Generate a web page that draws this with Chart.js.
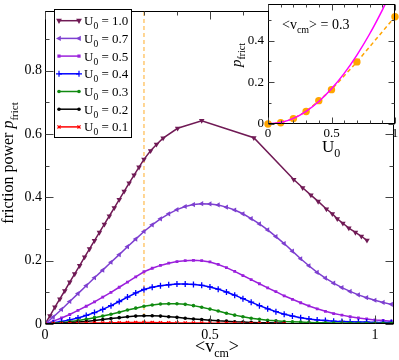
<!DOCTYPE html>
<html>
<head>
<meta charset="utf-8">
<script src="https://cdn.jsdelivr.net/npm/chart.js@4.4.1/dist/chart.umd.min.js"></script>
<style>
  html, body { margin: 0; padding: 0; background: #fff; }
  #wrap { position: relative; width: 399px; height: 360px; }
  #main { position: absolute; left: 0; top: 0; }
  #inset { position: absolute; left: 230px; top: 0; }
</style>
</head>
<body>
<div id="wrap">
  <canvas id="main" width="399" height="360"></canvas>
  <canvas id="inset" width="169" height="160"></canvas>
</div>
<script>
// ---- data ----
const u0Labels = ['1.0', '0.7', '0.5', '0.4', '0.3', '0.2', '0.1'];

// U0 = 1.0 has its own (non uniform) sampling
const vcm10 = [0, 0.015, 0.03, 0.045, 0.06, 0.075, 0.09, 0.105, 0.12, 0.135, 0.15, 0.165, 0.18, 0.195,
  0.21, 0.225, 0.24, 0.255, 0.27, 0.285, 0.3, 0.32, 0.338, 0.358, 0.402, 0.475, 0.633, 0.754, 0.781,
  0.806, 0.828, 0.853, 0.871, 0.886, 0.903, 0.921, 0.941, 0.959, 0.976];
const p10 = [0, 0.026, 0.053, 0.079, 0.105, 0.132, 0.158, 0.184, 0.211, 0.237, 0.263, 0.289, 0.315, 0.341,
  0.367, 0.393, 0.419, 0.445, 0.470, 0.495, 0.520, 0.547, 0.567, 0.587, 0.618, 0.642, 0.588, 0.456, 0.430,
  0.407, 0.387, 0.363, 0.348, 0.332, 0.318, 0.303, 0.289, 0.277, 0.264];

// the other curves share this <v_cm> grid
const vcm = [0, 0.025, 0.05, 0.075, 0.1, 0.125, 0.15, 0.175, 0.2, 0.225, 0.25, 0.275, 0.3, 0.325, 0.35,
  0.375, 0.4, 0.425, 0.45, 0.475, 0.5, 0.525, 0.55, 0.575, 0.6, 0.625, 0.65, 0.675, 0.7, 0.725, 0.75,
  0.775, 0.8, 0.825, 0.85, 0.875, 0.9, 0.925, 0.95, 0.975, 1.0, 1.025, 1.05];
const p07 = [0, 0.022, 0.046, 0.071, 0.096, 0.121, 0.146, 0.170, 0.195, 0.219, 0.244, 0.268, 0.292, 0.313,
  0.332, 0.348, 0.361, 0.371, 0.377, 0.380, 0.379, 0.376, 0.369, 0.360, 0.348, 0.333, 0.316, 0.297, 0.276,
  0.254, 0.230, 0.206, 0.184, 0.163, 0.145, 0.129, 0.115, 0.103, 0.092, 0.083, 0.075, 0.068, 0.062];
const p05 = [0, 0.009, 0.019, 0.030, 0.043, 0.056, 0.070, 0.085, 0.100, 0.116, 0.132, 0.149, 0.165, 0.176,
  0.185, 0.192, 0.197, 0.200, 0.201, 0.200, 0.196, 0.188, 0.178, 0.166, 0.153, 0.140, 0.127, 0.114, 0.102,
  0.089, 0.078, 0.067, 0.057, 0.048, 0.040, 0.033, 0.028, 0.023, 0.019, 0.016, 0.013, 0.011, 0.009];
const p04 = [0, 0.004, 0.008, 0.013, 0.019, 0.027, 0.036, 0.046, 0.058, 0.071, 0.085, 0.098, 0.109, 0.116,
  0.121, 0.124, 0.126, 0.126, 0.125, 0.122, 0.117, 0.110, 0.101, 0.091, 0.080, 0.069, 0.058, 0.048, 0.039,
  0.031, 0.025, 0.020, 0.016, 0.013, 0.011, 0.009, 0.008, 0.007, 0.006, 0.006, 0.005, 0.005, 0.005];
const p03 = [0, 0.002, 0.004, 0.007, 0.011, 0.015, 0.020, 0.025, 0.031, 0.037, 0.044, 0.050, 0.056, 0.060,
  0.063, 0.064, 0.064, 0.062, 0.058, 0.053, 0.047, 0.041, 0.034, 0.028, 0.023, 0.018, 0.015, 0.012, 0.010,
  0.008, 0.007, 0.006, 0.005, 0.004, 0.004, 0.003, 0.003, 0.003, 0.002, 0.002, 0.002, 0.002, 0.002];
const p02 = [0, 0.001, 0.002, 0.004, 0.006, 0.008, 0.011, 0.014, 0.017, 0.020, 0.023, 0.025, 0.026, 0.026,
  0.025, 0.023, 0.021, 0.018, 0.016, 0.014, 0.012, 0.010, 0.009, 0.007, 0.006, 0.005, 0.004, 0.004, 0.003, 0.003];
const p01 = [0, 0.0005, 0.001, 0.0015, 0.002, 0.0025, 0.003, 0.0035, 0.004, 0.004, 0.0045, 0.0045, 0.0045,
  0.0045, 0.004, 0.004, 0.0035, 0.0035, 0.003, 0.003, 0.0025, 0.0025, 0.002, 0.002, 0.0015, 0.0015, 0.0015,
  0.001, 0.001, 0.001];

const vcmCut = 0.3;   // dashed orange marker line

// inset: p_frict at <v_cm> = 0.3 vs U0
const insetU0 = [0, 0.1, 0.2, 0.3, 0.4, 0.5, 0.7, 1.0];
const insetP = [0, 0.006, 0.026, 0.060, 0.112, 0.165, 0.298, 0.515];
const fitU0 = [0, 0.1, 0.2, 0.3, 0.4, 0.5, 0.6, 0.7, 0.8, 0.9, 0.95];
const fitP = [0, 0.007, 0.027, 0.061, 0.108, 0.169, 0.243, 0.331, 0.432, 0.547, 0.61];

// ticks
const mainXMajor = [0, 0.5, 1], mainXLabels = ['0', '0.5', '1'];
const mainXMinor = [0.1, 0.2, 0.3, 0.4, 0.6, 0.7, 0.8, 0.9];
const mainYMajor = [0, 0.2, 0.4, 0.6, 0.8], mainYLabels = ['0', '0.2', '0.4', '0.6', '0.8'];
const mainYMinor = [0.1, 0.3, 0.5, 0.7, 0.9];
const insXMajor = [0, 0.5, 1], insXLabels = ['0', '0.5', '1'];
const insXMinor = [0.1, 0.2, 0.3, 0.4, 0.6, 0.7, 0.8, 0.9];
const insYMajor = [0, 0.2, 0.4], insYLabels = ['0', '0.2', '0.4'];
const insYMinor = [0.1, 0.3, 0.5];

// ---- styling ----
const SERIF = '"Liberation Serif", "DejaVu Serif", serif';
const colors = ['#701a55', '#7d3fd0', '#9b20dc', '#0000ff', '#108a10', '#000000', '#ff0000'];
const pstyles = ['triangle', 'triangle', 'rect', 'cross', 'circle', 'circle', 'crossRot'];
const prots = [180, 270, 0, 0, 0, 0, 0];
const pradii = [3.2, 3, 2, 3, 1.8, 1.8, 2.2];

function pts(xs, ys) { return ys.map((y, i) => ({ x: xs[i], y: y })); }

function richText(ctx, parts, x, y, align) {
  let w = 0;
  parts.forEach(p => { ctx.font = p[1]; w += ctx.measureText(p[0]).width; });
  let cx = align === 'center' ? x - w / 2 : x;
  ctx.textAlign = 'left'; ctx.textBaseline = 'alphabetic'; ctx.fillStyle = '#000';
  parts.forEach(p => {
    ctx.font = p[1];
    ctx.fillText(p[0], cx, y + (p[2] || 0));
    cx += ctx.measureText(p[0]).width;
  });
}

function drawMarker(ctx, style, rot, r, x, y) {
  ctx.save();
  ctx.translate(x, y);
  ctx.rotate(rot * Math.PI / 180);
  ctx.beginPath();
  if (style === 'triangle') {
    ctx.moveTo(0, -r); ctx.lineTo(r * 0.9, r * 0.6); ctx.lineTo(-r * 0.9, r * 0.6); ctx.closePath(); ctx.fill();
  } else if (style === 'rect') {
    ctx.fillRect(-r * 0.8, -r * 0.8, r * 1.6, r * 1.6);
  } else if (style === 'circle') {
    ctx.arc(0, 0, r, 0, Math.PI * 2); ctx.fill();
  } else {
    if (style === 'crossRot') ctx.rotate(Math.PI / 4);
    ctx.moveTo(-r, 0); ctx.lineTo(r, 0); ctx.moveTo(0, -r); ctx.lineTo(0, r); ctx.stroke();
  }
  ctx.restore();
}

function axesPlugin(xMaj, xMin, yMaj, yMin, majLen, minLen) {
  return {
    id: 'frameTicks',
    afterDatasetsDraw(chart) {
      const { ctx, chartArea: a, scales } = chart;
      const L = Math.round(a.left) + 0.5, R = Math.round(a.right) - 0.5;
      const T = Math.round(a.top) + 0.5, B = Math.round(a.bottom) - 0.5;
      ctx.save();
      ctx.strokeStyle = '#000'; ctx.lineWidth = 1;
      ctx.strokeRect(L, T, R - L, B - T);
      ctx.strokeStyle = '#444';
      ctx.beginPath();
      const xt = (v, len) => {
        const px = Math.round(scales.x.getPixelForValue(v)) + 0.5;
        ctx.moveTo(px, B); ctx.lineTo(px, B - len);
        ctx.moveTo(px, T); ctx.lineTo(px, T + len);
      };
      const yt = (v, len) => {
        const py = Math.round(scales.y.getPixelForValue(v)) + 0.5;
        ctx.moveTo(L, py); ctx.lineTo(L + len, py);
        ctx.moveTo(R, py); ctx.lineTo(R - len, py);
      };
      xMaj.forEach(v => xt(v, majLen)); xMin.forEach(v => xt(v, minLen));
      yMaj.forEach(v => yt(v, majLen)); yMin.forEach(v => yt(v, minLen));
      ctx.stroke();
      ctx.restore();
    }
  };
}

const mainLegend = {
  id: 'mainLegend',
  afterDraw(chart) {
    const ctx = chart.ctx;
    ctx.save();
    ctx.fillStyle = '#fff';
    ctx.fillRect(54, 9, 77, 128);
    ctx.strokeStyle = '#000'; ctx.lineWidth = 1;
    ctx.strokeRect(54.5, 9.5, 77, 128);
    u0Labels.forEach((lab, i) => {
      const y = 20.7 + i * 17.7;
      ctx.strokeStyle = colors[i]; ctx.fillStyle = colors[i]; ctx.lineWidth = 1.5;
      ctx.beginPath(); ctx.moveTo(59, y); ctx.lineTo(79, y); ctx.stroke();
      ctx.lineWidth = 1.2;
      drawMarker(ctx, pstyles[i], prots[i], pradii[i], 59, y);
      drawMarker(ctx, pstyles[i], prots[i], pradii[i], 79, y);
      richText(ctx, [['U', '13px ' + SERIF], ['0', '9.5px ' + SERIF, 4], [' = ' + lab, '13px ' + SERIF]], 84, y + 4.5);
    });
    // axis titles
    ctx.save();
    ctx.translate(13, 163);
    ctx.rotate(-Math.PI / 2);
    richText(ctx, [['friction power ', '16px ' + SERIF], ['p', 'italic 16px ' + SERIF], ['frict', '11px ' + SERIF, 4.5]], 0, 0, 'center');
    ctx.restore();
    richText(ctx, [['<v', '18px ' + SERIF], ['cm', '12px ' + SERIF, 5], ['>', '18px ' + SERIF]], 217, 352, 'center');
    ctx.restore();
  }
};

const series = [p10, p07, p05, p04, p03, p02, p01];
const mainSets = series.map((ys, i) => ({
  label: 'U0 = ' + u0Labels[i],
  data: i === 0 ? pts(vcm10, ys) : pts(vcm, ys),
  borderColor: colors[i],
  backgroundColor: colors[i],
  borderWidth: 1.5,
  pointStyle: pstyles[i],
  rotation: prots[i],
  pointRadius: pradii[i],
  pointBorderWidth: (pstyles[i] === 'cross' || pstyles[i] === 'crossRot') ? 1.3 : 0,
  pointBackgroundColor: colors[i],
  pointBorderColor: colors[i],
  tension: 0,
  fill: false,
  order: 7 - i
}));
mainSets.push({
  label: 'cut',
  data: [{ x: vcmCut, y: 0 }, { x: vcmCut, y: 0.987 }],
  borderColor: '#ffc870',
  borderWidth: 1.5,
  borderDash: [4, 3],
  pointRadius: 0,
  fill: false,
  order: 20
});

const tickFont = { family: SERIF, size: 14 };

new Chart(document.getElementById('main'), {
  type: 'line',
  data: { datasets: mainSets },
  options: {
    responsive: false,
    animation: false,
    layout: { padding: { top: 2, right: 2, left: 0, bottom: 0 } },
    plugins: { legend: { display: false }, tooltip: { enabled: false } },
    scales: {
      x: {
        type: 'linear', min: 0, max: 1.057,
        grid: { display: false, drawTicks: false }, border: { display: false },
        afterBuildTicks: s => { s.ticks = mainXMajor.map(v => ({ value: v })); },
        afterFit: s => { s.height = 36; },
        ticks: { padding: 3, color: '#000', font: tickFont, maxRotation: 0, autoSkip: false,
          callback: (v, i) => mainXLabels[i] }
      },
      y: {
        type: 'linear', min: 0, max: 0.987,
        grid: { display: false, drawTicks: false }, border: { display: false },
        afterBuildTicks: s => { s.ticks = mainYMajor.map(v => ({ value: v })); },
        afterFit: s => { s.width = 45; },
        ticks: { padding: 3, color: '#000', font: tickFont, autoSkip: false,
          callback: (v, i) => mainYLabels[i] }
      }
    }
  },
  plugins: [axesPlugin(mainXMajor, mainXMinor, mainYMajor, mainYMinor, 8, 4), mainLegend]
});

// ---- inset ----
const insetDecor = {
  id: 'insetDecor',
  beforeDatasetsDraw(chart) {
    const { ctx, chartArea: a } = chart;
    ctx.save(); ctx.fillStyle = '#fff';
    ctx.fillRect(a.left, a.top, a.right - a.left, a.bottom - a.top);
    ctx.restore();
  },
  afterDraw(chart) {
    const { ctx, chartArea: a, scales } = chart;
    ctx.save();
    ctx.fillStyle = '#000';
    ctx.font = '13px ' + SERIF;
    ctx.textAlign = 'center'; ctx.textBaseline = 'top';
    insXMajor.forEach((v, i) => ctx.fillText(insXLabels[i], scales.x.getPixelForValue(v), a.bottom + 3));
    ctx.textAlign = 'right'; ctx.textBaseline = 'middle';
    insYMajor.forEach((v, i) => ctx.fillText(insYLabels[i], a.left - 4, scales.y.getPixelForValue(v)));
    richText(ctx, [['<v', '14px ' + SERIF], ['cm', '10px ' + SERIF, 4], ['> = 0.3', '14px ' + SERIF]], 52, 29);
    richText(ctx, [['U', '17px ' + SERIF], ['0', '12px ' + SERIF, 5]], 92, 152);
    ctx.translate(11, 55);
    ctx.rotate(-Math.PI / 2);
    richText(ctx, [['p', 'italic 15px ' + SERIF], ['frict', '10px ' + SERIF, 4]], 0, 0, 'center');
    ctx.restore();
  }
};

new Chart(document.getElementById('inset'), {
  type: 'line',
  data: {
    datasets: [
      {
        label: 'fit',
        data: pts(fitU0, fitP),
        borderColor: '#ff00ff',
        borderWidth: 1.5,
        pointRadius: 0,
        cubicInterpolationMode: 'monotone',
        fill: false,
        order: 1
      },
      {
        label: 'p at 0.3',
        data: pts(insetU0, insetP),
        borderColor: '#ffa500',
        borderWidth: 1.5,
        borderDash: [4, 3],
        pointRadius: 3.7,
        pointBackgroundColor: '#ffa500',
        pointBorderWidth: 0,
        fill: false,
        clip: false,
        order: 2
      }
    ]
  },
  options: {
    responsive: false,
    animation: false,
    layout: { padding: { top: 2, right: 4, left: 0, bottom: 0 } },
    plugins: { legend: { display: false }, tooltip: { enabled: false } },
    scales: {
      x: {
        type: 'linear', min: 0, max: 1,
        grid: { display: false, drawTicks: false }, border: { display: false },
        afterFit: s => { s.height = 36; },
        ticks: { display: false }
      },
      y: {
        type: 'linear', min: 0, max: 0.576,
        grid: { display: false, drawTicks: false }, border: { display: false },
        afterFit: s => { s.width = 38; },
        ticks: { display: false }
      }
    }
  },
  plugins: [insetDecor, axesPlugin(insXMajor, insXMinor, insYMajor, insYMinor, 6, 3)]
});
</script>
</body>
</html>
